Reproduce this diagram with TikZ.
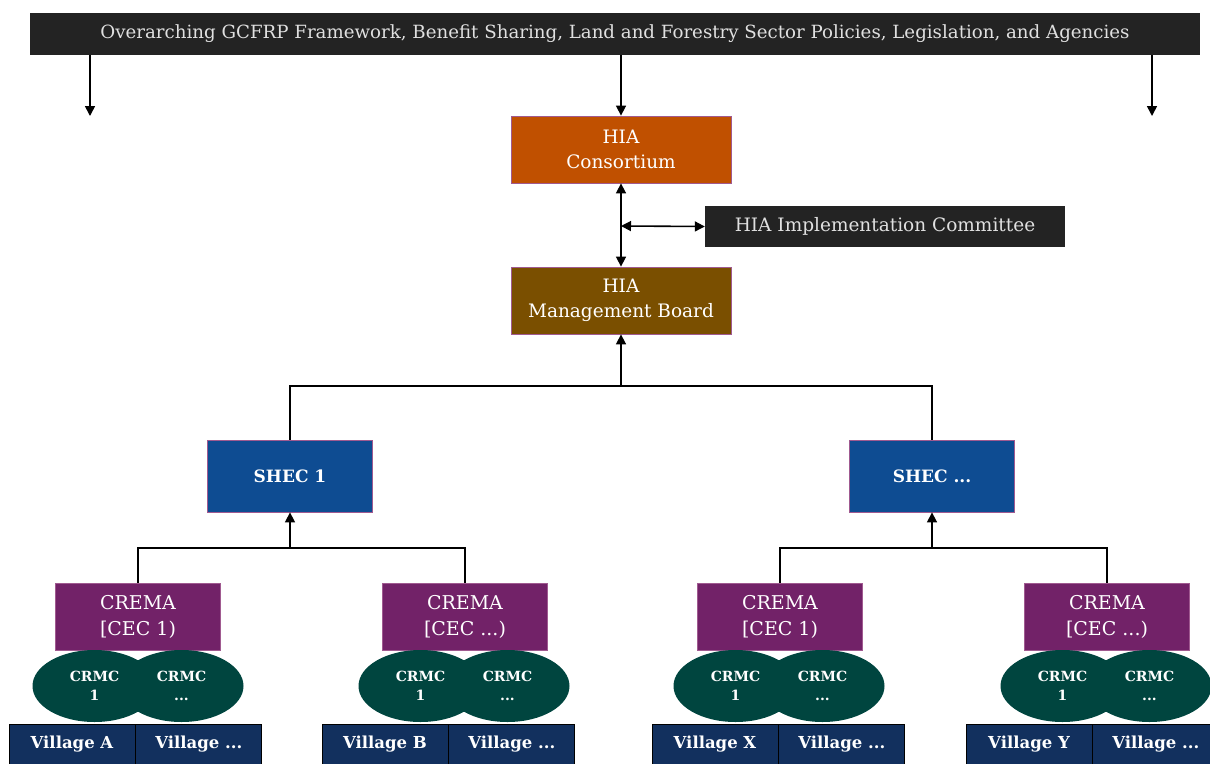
\documentclass[tikz,border=0pt]{standalone}
\usepackage{fontspec}
\setmainfont{DejaVu Serif}
\usetikzlibrary{arrows.meta, positioning, shapes.geometric}

\definecolor{barblack}{HTML}{232323}
\definecolor{consorange}{HTML}{C05000}
\definecolor{boardbrown}{HTML}{7A4F00}
\definecolor{shecblue}{HTML}{0E4C92}
\definecolor{cremapurple}{HTML}{722268}
\definecolor{crmcgreen}{HTML}{00453F}
\definecolor{villagenavy}{HTML}{12305E}
\definecolor{edgepink}{HTML}{A05A90}

\tikzset{
  box/.style={rectangle, draw=edgepink, line width=0.8pt, text=white, align=center,
    inner sep=0pt},
  bar/.style={rectangle, fill=barblack, text=white!88!black, inner sep=0pt,
    font=\fontsize{18.2}{22}\selectfont},
  hia/.style={box, minimum width=220, minimum height=67, font=\fontsize{18.5}{25}\selectfont},
  shec/.style={box, fill=shecblue, minimum width=165, minimum height=72, font=\fontsize{17}{24}\bfseries\selectfont},
  crema/.style={box, fill=cremapurple, minimum width=165, minimum height=67, font=\fontsize{19}{26}\selectfont},
  crmc/.style={ellipse, fill=crmcgreen, text=white, align=center, minimum width=124,
    minimum height=72, inner sep=0pt, font=\fontsize{14}{19}\bfseries\selectfont},
  village/.style={rectangle, fill=villagenavy, draw=black, line width=0.8pt, text=white,
    minimum width=126, minimum height=40, inner sep=0pt, font=\fontsize{16.5}{19}\bfseries\selectfont},
  link/.style={line width=1.6pt, black},
  tip/.style={-{Triangle[length=10pt, width=10pt]}},
  twotip/.style={{Triangle[length=10pt, width=10pt]}-{Triangle[length=10pt, width=10pt]}},
}

\begin{document}
\begin{tikzpicture}[x=1pt, y=-1pt]
\useasboundingbox (0,0) rectangle (1210,763);
\node (frame) [bar, minimum width=1170, minimum height=42] at (615,34)
  {Overarching GCFRP Framework, Benefit Sharing, Land and Forestry Sector Policies, Legislation, and Agencies};
\coordinate (leftend) at (90,116);
\coordinate (rightend) at (1152,116);
\node (cons) [hia, fill=consorange] at (621,149.5) {HIA\\Consortium};
\node (board) [hia, fill=boardbrown] at (621,300.5) {HIA\\Management Board};
\node (impl) [bar, minimum width=360, minimum height=41, font=\fontsize{18.5}{22}\selectfont] at (885,226.5) {HIA Implementation Committee};
\coordinate (mid) at (621,226);
\node (shecA) [shec] at (290,476) {SHEC 1};
\node (shecB) [shec] at (932,476) {SHEC ...};
\coordinate (busTop) at (621,386);
\coordinate (busA) at (290,548);
\coordinate (busB) at (932,548);
%CREMAs:
\node (cremaA) [crema] at (138,616.5) {CREMA\\{[}CEC 1)};
\node (cremaB) [crema] at (465,616.5) {CREMA\\{[}CEC ...)};
\node (cremaX) [crema] at (780,616.5) {CREMA\\{[}CEC 1)};
\node (cremaY) [crema] at (1107,616.5) {CREMA\\{[}CEC ...)};
%CRMCs:
\foreach \c/\x in {A/138, B/464, X/779, Y/1106} {
  \node (crmc\c1) [crmc] at (\x-43.5,686) {CRMC\\1};
  \node (crmc\c2) [crmc] at (\x+43.5,686) {CRMC\\...};
}
%Villages:
\foreach \v/\x in {A/135, B/448, X/778, Y/1092} {
  \node (vill\v) [village] at (\x-63,744) {Village \v};
  \node (vill\v2) [village, right=0pt of vill\v] {Village ...};
}
%Top-down:
\path [link, tip]
(frame.south -| leftend) edge (leftend)
(frame.south -| rightend) edge (rightend)
(frame.south -| cons.north) edge (cons.north)
;
%Two-way:
\path [link, twotip]
(cons.south) edge (board.north)
(mid) edge (impl.west)
;
%Bottom-up:
\path [link, tip]
(busTop) edge (board.south)
(busA) edge (shecA.south)
(busB) edge (shecB.south)
;
\draw [link] (shecA.north) |- (busTop) -| (shecB.north);
\draw [link] (cremaA.north) |- (busA) -| (cremaB.north);
\draw [link] (cremaX.north) |- (busB) -| (cremaY.north);
\end{tikzpicture}
\end{document}
